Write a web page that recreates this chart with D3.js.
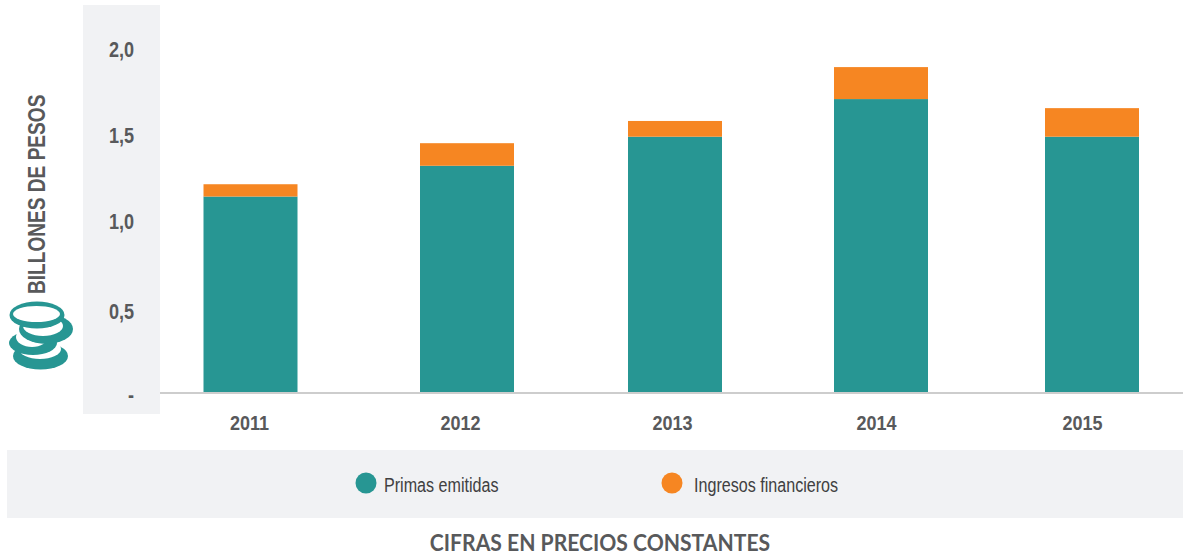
<!DOCTYPE html>
<html><head><meta charset="utf-8">
<script src="https://cdn.jsdelivr.net/npm/d3@7/dist/d3.min.js"></script>
<style>html,body{margin:0;padding:0;background:#fff}svg{display:block}
text{font-family:"Liberation Sans",Arial,sans-serif}</style>
</head><body><svg id="c" width="1183" height="558"></svg>
<script>
const years=[2011,2012,2013,2014,2015];
const primas=[1.143,1.323,1.493,1.713,1.493];
const ingresos=[0.072,0.132,0.092,0.187,0.167];
const seriesNames=["Primas emitidas","Ingresos financieros"];
const yTicks=[0,0.5,1,1.5,2];
const yLabels=["-","0,5","1,0","1,5","2,0"];
const colors=["#279693","#F68622"];
const grey="#58595B",panel="#F1F2F4";

const svg=d3.select("#c");
// condense text: the reference uses a narrow face that is not installed
const narrow=(sel,k)=>sel.each(function(){
  this.setAttribute("textLength",this.getComputedTextLength()*k);
  this.setAttribute("lengthAdjust","spacingAndGlyphs");
});
svg.append("rect").attr("x",83).attr("y",5).attr("width",77).attr("height",409).attr("fill",panel);
svg.append("rect").attr("x",7).attr("y",450).attr("width",1176).attr("height",68).attr("fill",panel);

// position scales: bars and their labels are unevenly spaced in the reference
const xBar=d3.scaleLinear().domain(years).range([250.5,467,675,881,1092]);
const xLab=d3.scaleLinear().domain(years).range([249,460,672,876,1082]);
const y=d3.scaleLinear().domain([0,2]).range([392,50]);
const yLab=d3.scaleLinear().domain(yTicks).range([394,311,221,135,49]);
const bw=94;

const stack=d3.stack().keys([0,1]).value((d,k)=>d[k])(years.map((_,i)=>[primas[i],ingresos[i]]));
stack.forEach((s,k)=>{
  svg.append("g").selectAll("rect").data(s).join("rect")
    .attr("x",(d,i)=>xBar(years[i])-bw/2).attr("width",bw)
    .attr("y",d=>y(d[1])).attr("height",d=>y(d[0])-y(d[1]))
    .attr("fill",colors[k]);
});

// baseline
svg.append("line").attr("x1",160).attr("x2",1183).attr("y1",393).attr("y2",393)
  .attr("stroke","#BDBDBD").attr("stroke-width",1.5);

// axes
const gx=svg.append("g").attr("transform","translate(0,430)")
  .call(d3.axisBottom(xLab).tickValues(years).tickFormat(d3.format("d")).tickSize(0).tickPadding(0));
gx.select(".domain").remove();
gx.selectAll("text").attr("y",0).attr("dy",0).attr("font-size",20).attr("font-weight",700).attr("fill",grey)
  .attr("text-anchor","middle").style("font-family",'"Liberation Sans"').call(narrow,0.9);
const gy=svg.append("g").attr("transform","translate(134,0)")
  .call(d3.axisLeft(yLab).tickValues(yTicks).tickFormat((d,i)=>yLabels[i]).tickSize(0).tickPadding(0));
gy.select(".domain").remove();
gy.selectAll("text").attr("x",0).attr("dy","0.35em").attr("font-size",21.5).attr("font-weight",700).attr("fill",grey)
  .attr("text-anchor","end").style("font-family",'"Liberation Sans"').call(narrow,0.84);

// y title
svg.append("text").attr("transform","translate(45,294) rotate(-90)").attr("font-size",23).attr("font-weight",700)
  .attr("fill",grey).text("BILLONES DE PESOS").call(narrow,0.83);

// coins icon (bottom to top: outer disc, inner white face)
const ic=svg.append("g");
[[40.5,356,27.5,13.5,40,349,21,10],[33,343,24,12,32,337,16,10],[46,329,27,15,43,326,20,10],[37,315,27.5,13.5,36.5,314,23.5,8]]
.forEach(c=>{
  ic.append("ellipse").attr("cx",c[0]).attr("cy",c[1]).attr("rx",c[2]).attr("ry",c[3]).attr("fill",colors[0]);
  ic.append("ellipse").attr("cx",c[4]).attr("cy",c[5]).attr("rx",c[6]).attr("ry",c[7]).attr("fill","#fff");
});

// legend
const legX=[366,672],legT=[384,694];
seriesNames.forEach((n,i)=>{
  svg.append("circle").attr("cx",legX[i]).attr("cy",483).attr("r",10.5).attr("fill",colors[i]);
  svg.append("text").attr("x",legT[i]).attr("y",492).attr("font-size",20).attr("fill","#404041").text(n).call(narrow,0.805);
});

// footer
svg.append("text").attr("x",600).attr("y",551).attr("text-anchor","middle").attr("font-size",22).attr("font-weight",700)
  .style("font-family","Lato").attr("fill",grey).text("CIFRAS EN PRECIOS CONSTANTES").call(narrow,0.96);
</script></body></html>
